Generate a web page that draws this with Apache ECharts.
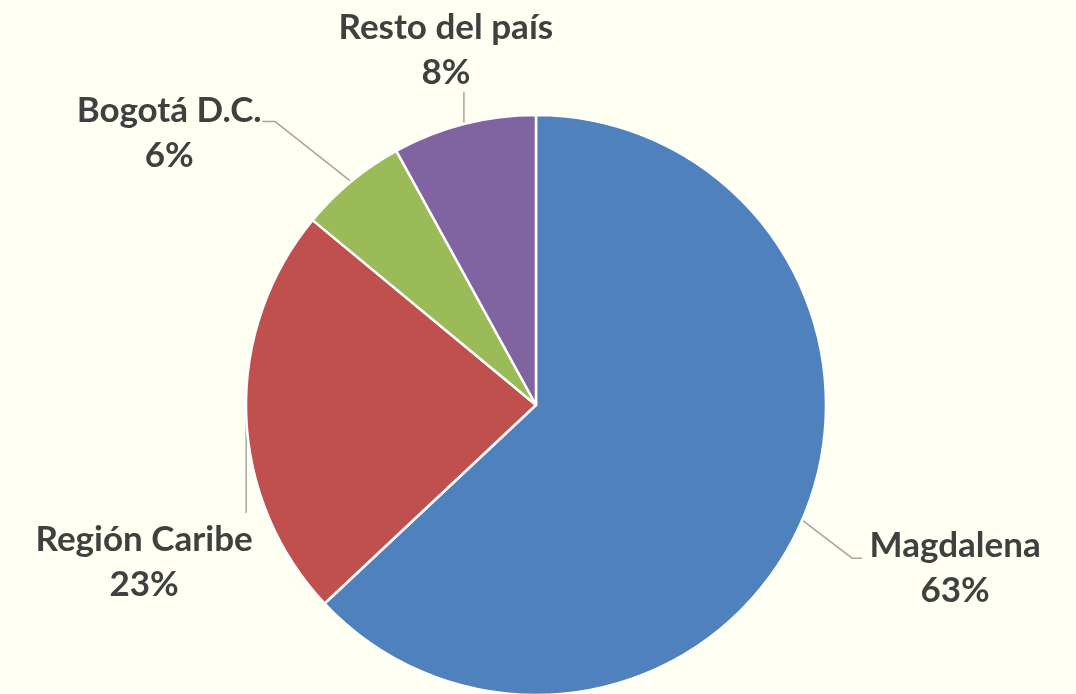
<!DOCTYPE html>
<html>
<head>
<meta charset="utf-8">
<script src="https://cdn.jsdelivr.net/npm/echarts@6/dist/echarts.min.js"></script>
<style>
  html, body { margin: 0; padding: 0; background: #FFFFF2; }
  #chart { width: 1076px; height: 694px; }
</style>
</head>
<body>
<div id="chart"></div>
<script>
// datos del gráfico
var categorias = ['Magdalena', 'Región Caribe', 'Bogotá D.C.', 'Resto del país'];
var valores = [63, 23, 6, 8];
var colores = ['#4F81BD', '#C0504D', '#9BBB59', '#8064A2'];

// posición de etiquetas respecto al borde del sector (como en el original de Excel)
var etiquetas = [
  { line: [[50, 38], [60, 38]], label: [153, 48] },
  { line: [[0, 99], [0, 99]], label: [-102, 148] },
  { line: [[-76, -60], [-89, -60]], label: [-182, -48] },
  { line: [[0, -32], [0, -32]], label: [-18, -74] }
];

var chart = echarts.init(document.getElementById('chart'));

var datos = categorias.map(function (c, i) {
  return { name: c, value: valores[i], itemStyle: { color: colores[i] } };
});

chart.setOption({
  backgroundColor: '#FFFFF2',
  animation: false,
  series: [{
    type: 'pie',
    center: [536, 405],
    radius: 290,
    startAngle: 90,
    clockwise: true,
    data: datos,
    itemStyle: { borderColor: '#FFFFFF', borderWidth: 2.5 },
    label: {
      show: true,
      position: 'outside',
      formatter: '{b}\n{d}%',
      fontFamily: 'Lato',
      fontWeight: 'bold',
      fontSize: 35,
      lineHeight: 45,
      color: '#404040',
      align: 'center',
      overflow: 'none'
    },
    labelLine: {
      show: true,
      length: 20,
      length2: 10,
      lineStyle: { color: '#A6A6A6', width: 1.5 }
    },
    labelLayout: function (p) {
      var cfg = etiquetas[p.dataIndex];
      var e = p.labelLinePoints && p.labelLinePoints[0];
      if (!e) return {};
      var pts = [[e[0], e[1]]];
      cfg.line.forEach(function (d) { pts.push([e[0] + d[0], e[1] + d[1]]); });
      return {
        x: e[0] + cfg.label[0],
        y: e[1] + cfg.label[1],
        align: 'center',
        verticalAlign: 'middle',
        width: 300,
        labelLinePoints: pts
      };
    }
  }]
});
</script>
</body>
</html>
